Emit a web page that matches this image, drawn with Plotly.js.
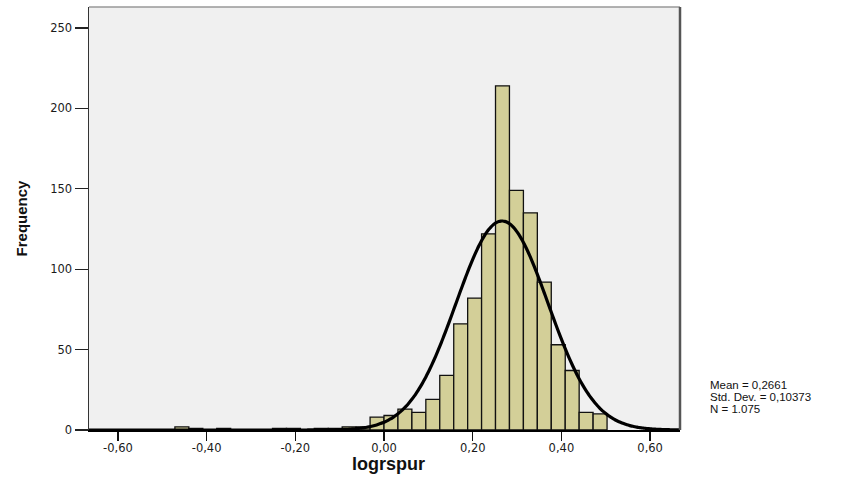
<!DOCTYPE html>
<html>
<head>
<meta charset="utf-8">
<script src="https://cdn.plot.ly/plotly-3.0.1.min.js"></script>
<style>html,body{margin:0;padding:0;background:#fff;}#chart{width:851px;height:480px;}</style>
</head>
<body>
<div id="chart"></div>
<script>
// Histogram of logrspur (SPSS style)
const binWidth = 0.03143;
const binLeft = [-0.4715, -0.4400, -0.3772, -0.2514, -0.2200, -0.1572, -0.1257, -0.0943, -0.0629,
  -0.0314, 0.0000, 0.0314, 0.0629, 0.0943, 0.1257, 0.1572, 0.1886, 0.2200, 0.2514, 0.2829,
  0.3143, 0.3457, 0.3772, 0.4086, 0.4400, 0.4715];
const counts = [2, 1, 1, 1, 1, 1, 1, 2, 2,
  8, 9, 13, 11, 19, 34, 66, 82, 122, 214, 149,
  135, 92, 53, 37, 11, 10];

// Summary statistics shown on the chart
const statMean = 0.2661;
const statSD = 0.10373;
const statN = 1075;
const statLabels = ["Mean = 0,2661", "Std. Dev. = 0,10373", "N = 1.075"];

const xTitle = "logrspur";
const yTitle = "Frequency";
const xTickVals = [-0.6, -0.4, -0.2, 0, 0.2, 0.4, 0.6];
const xTickText = ["-0,60", "-0,40", "-0,20", "0,00", "0,20", "0,40", "0,60"];
const yTickVals = [0, 50, 100, 150, 200, 250];
const yTickText = ["0", "50", "100", "150", "200", "250"];

const xRange = [-0.6652, 0.6674];
const yRange = [0, 263];

// Fitted normal curve from the stated mean / SD / N
const curveX = [], curveY = [];
const steps = 300;
for (let i = 0; i <= steps; i++) {
  const x = xRange[0] + (xRange[1] - xRange[0]) * i / steps;
  const z = (x - statMean) / statSD;
  curveX.push(x);
  curveY.push(statN * binWidth * Math.exp(-0.5 * z * z) / (statSD * Math.sqrt(2 * Math.PI)));
}

const FONT = '"Liberation Sans", Arial, sans-serif';
const TICKFONT = '"DejaVu Sans", "Liberation Sans", sans-serif';

const bars = {
  type: 'bar',
  x: binLeft,
  y: counts,
  width: binWidth,
  offset: 0,
  marker: { color: '#D3CF98', line: { color: '#111', width: 1.3 } },
  hoverinfo: 'x+y',
  showlegend: false
};
const curve = {
  type: 'scatter',
  mode: 'lines',
  x: curveX,
  y: curveY,
  line: { color: '#000', width: 3.2, shape: 'spline' },
  hoverinfo: 'skip',
  showlegend: false,
  cliponaxis: true
};

const statY = [0.1064, 0.078, 0.0496];
const annotations = statLabels.map((t, i) => ({
  text: t, xref: 'paper', yref: 'paper', x: 1.047, y: statY[i],
  xanchor: 'left', yanchor: 'middle', showarrow: false,
  font: { family: FONT, size: 11.5, color: '#111' }
}));
// x-axis title placed just under the tick labels
annotations.push({
  text: '<b>' + xTitle + '</b>', xref: 'paper', yref: 'paper', x: 0.506, y: -0.08,
  xanchor: 'center', yanchor: 'middle', showarrow: false, borderpad: 0,
  font: { family: FONT, size: 18, color: '#111' }
});

const layout = {
  width: 851, height: 480,
  margin: { l: 89, r: 171, t: 7, b: 50, pad: 0 },
  paper_bgcolor: '#ffffff',
  plot_bgcolor: '#F0F0F0',
  bargap: 0,
  font: { family: FONT, size: 11, color: '#222' },
  xaxis: {
    range: xRange, tickmode: 'array', tickvals: xTickVals, ticktext: xTickText,
    ticks: 'outside', ticklen: 9, tickwidth: 1.3, tickcolor: '#111',
    ticklabelstandoff: -3,
    showgrid: false, zeroline: false, showline: true, linecolor: '#000', linewidth: 2,
    tickfont: { family: TICKFONT, size: 11.5, color: '#1a1a1a' },
    automargin: false, fixedrange: true
  },
  yaxis: {
    range: yRange, tickmode: 'array', tickvals: yTickVals, ticktext: yTickText,
    ticks: 'outside', ticklen: 13, tickwidth: 1.3, tickcolor: '#222',
    showgrid: false, zeroline: false, showline: true, linecolor: '#333', linewidth: 1.5,
    tickfont: { family: TICKFONT, size: 11.5, color: '#1a1a1a' },
    title: { text: '<b>' + yTitle + '</b>', font: { family: FONT, size: 15, color: '#111' }, standoff: 19 },
    automargin: false, fixedrange: true
  },
  shapes: [
    { type: 'line', xref: 'paper', yref: 'paper', x0: 0, x1: 1, y0: 1, y1: 1, line: { color: '#999', width: 1.5 } },
    { type: 'line', xref: 'paper', yref: 'paper', x0: 1, x1: 1, y0: 0, y1: 1, line: { color: '#555', width: 2.5 } }
  ],
  annotations: annotations
};

Plotly.newPlot('chart', [bars, curve], layout, { displayModeBar: false, staticPlot: true });
</script>
</body>
</html>
